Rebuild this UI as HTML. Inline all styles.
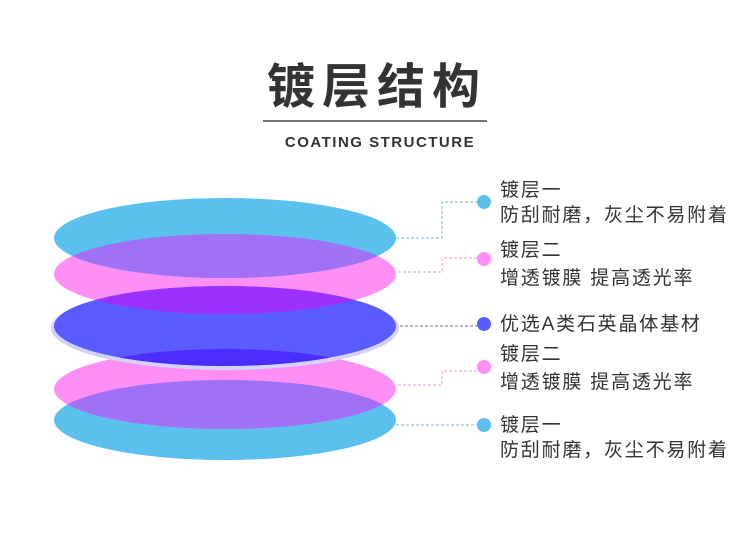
<!DOCTYPE html>
<html><head><meta charset="utf-8"><style>
body{margin:0;width:750px;height:533px;background:#fff;overflow:hidden}
</style></head><body>
<svg width="750" height="533" xmlns="http://www.w3.org/2000/svg" style="font-family:'Liberation Sans','Noto Sans CJK SC',sans-serif">
<defs>
<clipPath id="c1"><ellipse cx="225" cy="238" rx="171" ry="40"/></clipPath>
<clipPath id="p1"><ellipse cx="225" cy="274" rx="171" ry="40"/></clipPath>
<clipPath id="b"><ellipse cx="225" cy="326" rx="171" ry="40"/></clipPath>
<clipPath id="p2"><ellipse cx="225" cy="389" rx="171" ry="40"/></clipPath>
<clipPath id="c2"><ellipse cx="225" cy="420" rx="171" ry="40"/></clipPath>
</defs>
<text x="377" y="103" text-anchor="middle" font-size="48" font-weight="bold" fill="#333" letter-spacing="7" style="font-family:'Noto Sans CJK SC',sans-serif">镀层结构</text>
<line x1="263" y1="121" x2="487" y2="121" stroke="#444" stroke-width="1.5"/>
<text x="380" y="147" text-anchor="middle" font-size="15" font-weight="bold" fill="#333" letter-spacing="1.5">COATING STRUCTURE</text>

<ellipse cx="225" cy="420" rx="171" ry="40" fill="#5bc0ee"/>
<ellipse cx="225" cy="389" rx="171" ry="40" fill="#ff8ff5"/>
<ellipse cx="225" cy="389" rx="171" ry="40" fill="#a070f5" clip-path="url(#c2)"/>
<ellipse cx="225" cy="274" rx="171" ry="40" fill="#ff8ff5"/>
<ellipse cx="225" cy="328" rx="174" ry="42" fill="#d4d2f8"/>
<ellipse cx="225" cy="326" rx="171" ry="40" fill="#5a5cff"/>
<ellipse cx="225" cy="326" rx="171" ry="40" fill="#9b30ff" clip-path="url(#p1)"/>
<ellipse cx="225" cy="326" rx="171" ry="40" fill="#4c2cff" clip-path="url(#p2)"/>
<ellipse cx="225" cy="238" rx="171" ry="40" fill="#5bc0ee"/>
<ellipse cx="225" cy="238" rx="171" ry="40" fill="#a070f5" clip-path="url(#p1)"/>

<g fill="none" stroke-width="1" stroke-dasharray="3,2">
<polyline points="396,238 442,238 442,202 477,202" stroke="#7ab4cc"/>
<polyline points="398,272 442,272 442,258 477,258" stroke="#d9a0d5"/>
<polyline points="400,326 477,326" stroke="#6a6aa0"/>
<polyline points="398,385 442,385 442,371 477,371" stroke="#d9a0d5"/>
<polyline points="396,425 477,425" stroke="#7ab4cc"/>
</g>
<circle cx="484" cy="202" r="7" fill="#5bc0ee"/>
<circle cx="484" cy="259" r="7" fill="#ff8ff5"/>
<circle cx="484" cy="324" r="7" fill="#5a5cff"/>
<circle cx="484" cy="367" r="7" fill="#ff8ff5"/>
<circle cx="484" cy="425" r="7" fill="#5bc0ee"/>
<g font-size="19" fill="#333" letter-spacing="1.8">
<text x="500" y="196">镀层一</text>
<text x="500" y="221">防刮耐磨，灰尘不易附着</text>
<text x="500" y="256">镀层二</text>
<text x="500" y="284">增透镀膜 提高透光率</text>
<text x="500" y="330">优选A类石英晶体基材</text>
<text x="500" y="360">镀层二</text>
<text x="500" y="388">增透镀膜 提高透光率</text>
<text x="500" y="431">镀层一</text>
<text x="500" y="456">防刮耐磨，灰尘不易附着</text>
</g>
</svg>
</body></html>
